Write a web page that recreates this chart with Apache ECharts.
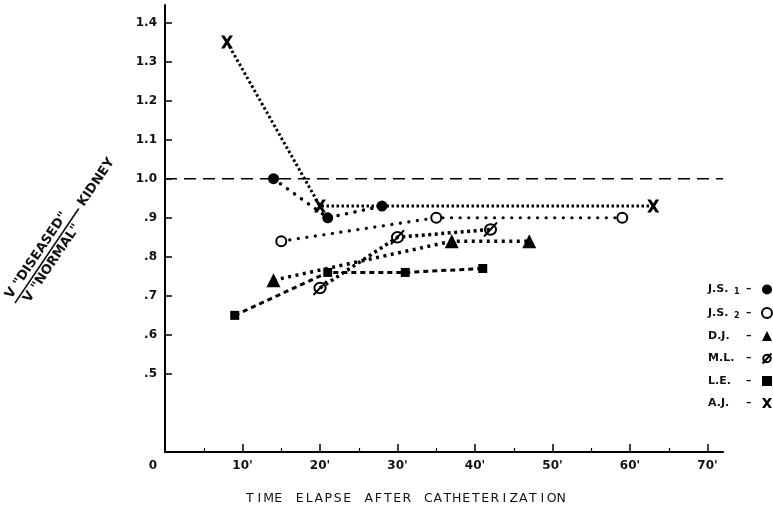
<!DOCTYPE html>
<html>
<head>
<meta charset="utf-8">
<script src="https://cdn.jsdelivr.net/npm/echarts@6/dist/echarts.min.js"></script>
<style>html,body{margin:0;padding:0;background:#fff}#c{width:773px;height:507px}</style>
</head>
<body>
<div id="c"></div>
<script>
// ---- data ----
const xJS1 = [14, 21, 28];       const yJS1 = [1.00, 0.90, 0.93];
const xJS2 = [15, 35, 59];       const yJS2 = [0.84, 0.90, 0.90];
const xDJ  = [14, 37, 47];       const yDJ  = [0.74, 0.84, 0.84];
const xML  = [20, 30, 42];       const yML  = [0.72, 0.85, 0.87];
const xLE  = [9, 21, 31, 41];    const yLE  = [0.65, 0.76, 0.76, 0.77];
const xAJ  = [8, 20, 63];        const yAJ  = [1.35, 0.93, 0.93];
const refX = [0, 72];            const refY = [1.0, 1.0];

const xTicks = [0, 10, 20, 30, 40, 50, 60, 70];
const xTickLabels = ["0", "10'", "20'", "30'", "40'", "50'", "60'", "70'"];
const xMinorTicks = [5, 15, 25, 35, 45, 55, 65];
const yTicks = [0.5, 0.6, 0.7, 0.8, 0.9, 1.0, 1.1, 1.2, 1.3, 1.4];
const yTickLabels = [".5", ".6", ".7", ".8", ".9", "1.0", "1.1", "1.2", "1.3", "1.4"];

const seriesNames = ['J.S.1', 'J.S.2', 'D.J.', 'M.L.', 'L.E.', 'A.J.'];
const xTitle = 'TIME ELAPSE AFTER CATHETERIZATION';

const pair = (xs, ys) => xs.map((x, i) => [x, ys[i]]);
const FONT = 'DejaVu Sans';
const INK = '#111';

const pathSlashO = 'path://M16,10C16,13.3,13.3,16,10,16C6.7,16,4,13.3,4,10C4,6.7,6.7,4,10,4C13.3,4,16,6.7,16,10ZM3,18L17,2';
const pathX = 'path://M0,0L3.5,0L6,3.6L8.5,0L12,0L7.8,6L12,12L8.5,12L6,8.4L3.5,12L0,12L4.2,6Z';

function lookup(vals, labels, v) {
  let best = -1, d = 1e9;
  vals.forEach((t, i) => { const dd = Math.abs(t - v); if (dd < d) { d = dd; best = i; } });
  return d < 1e-6 ? labels[best] : '';
}
// evenly spaced lettering (the original uses stencil-like, evenly spaced capitals)
const spaced = s => s.split('').map(ch => ch === ' ' ? '{w| }' : '{c|' + ch + '}').join('');

const chart = echarts.init(document.getElementById('c'), null, {renderer: 'canvas'});

const mkSeries = (name, data, symbol, size, itemStyle, lineStyle) => ({
  name, type: 'line', data, symbol, symbolSize: size, showSymbol: true,
  itemStyle, lineStyle: Object.assign({color: '#000'}, lineStyle),
  z: 3, animation: false, emphasis: {disabled: true}
});

const labelFont = {color: INK, fontFamily: FONT, fontSize: 12, fontWeight: 'bold'};
const legTok = (w, extra) => Object.assign({width: w, align: 'left', fontFamily: FONT, fontSize: 11, fontWeight: 'bold', color: INK}, extra || {});

const option = {
  animation: false,
  backgroundColor: '#fff',
  title: {
    text: spaced(xTitle),
    left: 240, top: 487,
    textStyle: {
      fontFamily: FONT, fontSize: 12.5, fontWeight: 'normal', color: INK,
      rich: {
        c: {width: 9.5, align: 'center', fontFamily: FONT, fontSize: 12.5, color: INK},
        w: {width: 12, fontFamily: FONT, fontSize: 12.5, color: INK}
      }
    }
  },
  grid: {left: 165, right: 50, top: 5, bottom: 55, containLabel: false},
  xAxis: [{
    type: 'value', min: 0, max: 72,
    axisLine: {show: true, lineStyle: {color: '#000', width: 2}},
    axisTick: {show: true, inside: true, length: 8, lineStyle: {color: '#000', width: 1.5}, customValues: xTicks.slice(1)},
    axisLabel: Object.assign({
      customValues: xTicks, margin: 8,
      formatter: v => { const s = lookup(xTicks, xTickLabels, v); return v === 0 ? '{z|' + s + '}' : s; },
      rich: {z: Object.assign({padding: [0, 24, 0, 0]}, labelFont)}
    }, labelFont),
    splitLine: {show: false}
  }, {
    type: 'value', min: 0, max: 72, position: 'bottom',
    axisLine: {show: false},
    axisTick: {show: true, inside: true, length: 4, lineStyle: {color: '#000', width: 1.2}, customValues: xMinorTicks},
    axisLabel: {show: false}, splitLine: {show: false}
  }],
  yAxis: {
    type: 'value', min: 0.3, max: 1.445,
    axisLine: {show: true, lineStyle: {color: '#000', width: 2}},
    axisTick: {show: true, inside: true, length: 7, lineStyle: {color: '#000', width: 1.5}, customValues: yTicks},
    axisLabel: Object.assign({
      customValues: yTicks, margin: 8,
      formatter: v => lookup(yTicks, yTickLabels, v)
    }, labelFont),
    splitLine: {show: false}
  },
  legend: {
    orient: 'vertical', left: 703, top: 279, align: 'right',
    itemWidth: 10, itemHeight: 10, itemGap: 11, selectedMode: false,
    textStyle: {
      color: INK, fontFamily: FONT, fontSize: 11, fontWeight: 'bold', align: 'left',
      rich: {
        n: legTok(38),
        m: legTok(26),
        s: legTok(12, {fontSize: 8, verticalAlign: 'bottom', padding: [5, 0, 0, 0]}),
        d: legTok(11)
      }
    },
    formatter: name => {
      if (name === 'J.S.1') return '{m|J.S.}{s|1}{d|–}';
      if (name === 'J.S.2') return '{m|J.S.}{s|2}{d|–}';
      return '{n|' + name + '}{d|–}';
    },
    data: [
      {name: 'J.S.1', icon: 'circle', itemStyle: {color: '#000', borderWidth: 0}},
      {name: 'J.S.2', icon: 'circle', itemStyle: {color: '#fff', borderColor: '#000', borderWidth: 2}},
      {name: 'D.J.', icon: 'triangle', itemStyle: {color: '#000', borderWidth: 0}},
      {name: 'M.L.', icon: pathSlashO, itemStyle: {color: 'rgba(0,0,0,0)', borderColor: '#000', borderWidth: 2}},
      {name: 'L.E.', icon: 'rect', itemStyle: {color: '#000', borderWidth: 0}},
      {name: 'A.J.', icon: pathX, itemStyle: {color: '#000', borderWidth: 0}}
    ]
  },
  graphic: [{
    type: 'group', x: 15, y: 303, rotation: 56 * Math.PI / 180, silent: true,
    children: [
      {type: 'text', x: 1, y: -2, style: {text: 'V "DISEASED"', fontFamily: FONT, fontSize: 13, fontWeight: 'bold', fill: INK, verticalAlign: 'bottom', align: 'left'}},
      {type: 'line', shape: {x1: 0, y1: 0, x2: 114, y2: 0}, style: {stroke: INK, lineWidth: 1.6}},
      {type: 'text', x: 8, y: 2, style: {text: 'V "NORMAL"', fontFamily: FONT, fontSize: 13, fontWeight: 'bold', fill: INK, verticalAlign: 'top', align: 'left'}},
      {type: 'text', x: 118, y: 0, style: {text: 'KIDNEY', fontFamily: FONT, fontSize: 13, fontWeight: 'bold', fill: INK, verticalAlign: 'middle', align: 'left'}}
    ]
  }],
  series: [
    {
      name: 'ref', type: 'line', data: pair(refX, refY), symbol: 'none', z: 1,
      lineStyle: {color: '#000', width: 1.6, type: [12, 7]}, animation: false, emphasis: {disabled: true}, silent: true
    },
    mkSeries('J.S.1', pair(xJS1, yJS1), 'circle', 11, {color: '#000'}, {width: 3.5, type: [0.1, 8.5], cap: 'round'}),
    mkSeries('J.S.2', pair(xJS2, yJS2), 'emptyCircle', 10, {color: '#000', borderColor: '#000', borderWidth: 2}, {width: 3.2, type: [0.1, 8.5], cap: 'round'}),
    mkSeries('D.J.', pair(xDJ, yDJ), 'triangle', 14, {color: '#000'}, {width: 3.5, type: [3, 4.5]}),
    mkSeries('M.L.', pair(xML, yML), pathSlashO, [13, 14], {color: 'rgba(0,0,0,0)', borderColor: '#000', borderWidth: 2}, {width: 3.5, type: [3, 3.5]}),
    mkSeries('L.E.', pair(xLE, yLE), 'rect', 9, {color: '#000'}, {width: 3, type: [5, 4]}),
    mkSeries('A.J.', pair(xAJ, yAJ), pathX, [12, 13], {color: '#000'}, {width: 3, type: [2.5, 2.5]})
  ]
};

chart.setOption(option);
</script>
</body>
</html>
